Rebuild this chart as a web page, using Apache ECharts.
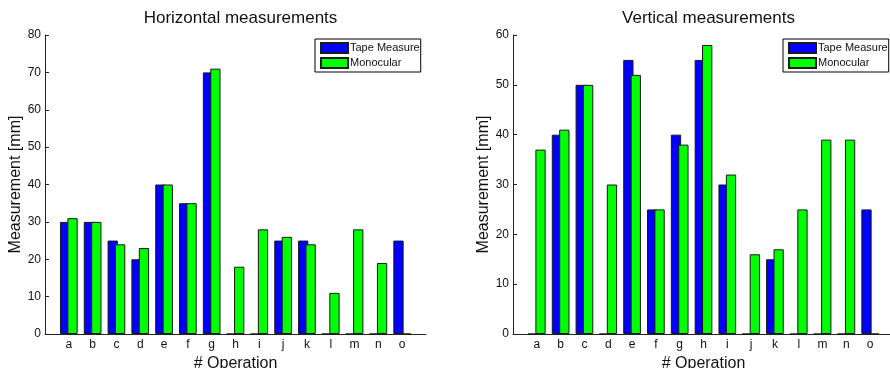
<!DOCTYPE html>
<html>
<head>
<meta charset="utf-8">
<script src="https://cdn.jsdelivr.net/npm/echarts@6/dist/echarts.min.js"></script>
<style>
  html, body { margin: 0; padding: 0; background: #fff; }
  #chart { width: 890px; height: 368px; }
</style>
</head>
<body>
<div id="chart"></div>
<script>
// Operation labels
const operations = ['a','b','c','d','e','f','g','h','i','j','k','l','m','n','o'];

// Horizontal measurements [mm]
const horizTape = [30, 30, 25, 20, 40, 35, 70, 0, 0, 25, 25, 0, 0, 0, 25];
const horizMono = [31, 30, 24, 23, 40, 35, 71, 18, 28, 26, 24, 11, 28, 19, 0];

// Vertical measurements [mm]
const vertTape = [0, 40, 50, 0, 55, 25, 40, 55, 30, 0, 15, 0, 0, 0, 25];
const vertMono = [37, 41, 50, 30, 52, 25, 38, 58, 32, 16, 17, 25, 39, 39, 0];

const FONT = '"Liberation Sans", Arial, Helvetica, sans-serif';
const TXT = '#111';
const AXIS = '#222';

// pad the category axis with an empty slot on each side so the
// axis runs half a band beyond the first and last group
const padCats = ['', ...operations, ''];
const pad = arr => [null, ...arr, null];

const chart = echarts.init(document.getElementById('chart'), null, { renderer: 'canvas' });

function xAxisFor(gridIndex) {
  return {
    type: 'category', gridIndex, data: padCats, boundaryGap: false,
    axisLine: { lineStyle: { color: AXIS, width: 1 } },
    axisTick: { show: false },
    axisLabel: { color: TXT, fontFamily: FONT, fontSize: 12, margin: 5, interval: 0 },
    splitLine: { show: false },
    name: '# Operation', nameLocation: 'middle', nameGap: 18,
    nameTextStyle: { color: TXT, fontFamily: FONT, fontSize: 16 }
  };
}
function yAxisFor(gridIndex, max) {
  return {
    type: 'value', gridIndex, min: 0, max, interval: 10,
    axisLine: { show: true, lineStyle: { color: AXIS, width: 1 } },
    axisTick: { show: true, inside: true, length: 4, lineStyle: { color: AXIS } },
    axisLabel: { color: TXT, fontFamily: FONT, fontSize: 12, margin: 4 },
    splitLine: { show: false },
    name: 'Measurement [mm]', nameLocation: 'middle', nameGap: 21,
    nameTextStyle: { color: TXT, fontFamily: FONT, fontSize: 16 }
  };
}
function barSeries(name, data, color, idx) {
  return {
    type: 'bar', name, data: pad(data), xAxisIndex: idx, yAxisIndex: idx,
    barWidth: 10.3, barGap: '-28%',
    itemStyle: { color, borderColor: '#1a1a1a', borderWidth: 1 },
    animation: false
  };
}
function legendFor(left) {
  return {
    left, top: 39, orient: 'vertical', icon: 'rect',
    itemWidth: 27, itemHeight: 10, itemGap: 3,
    padding: [3, 1, 3, 5],
    borderColor: '#000', borderWidth: 1, backgroundColor: '#fff',
    textStyle: { color: TXT, fontFamily: FONT, fontSize: 11, padding: [0, 0, 0, -3] },
    data: ['Tape Measure', 'Monocular']
  };
}

chart.setOption({
  backgroundColor: '#fff',
  animation: false,
  title: [
    { text: 'Horizontal measurements', left: 235.5, top: 5, textAlign: 'center',
      textStyle: { color: TXT, fontFamily: FONT, fontSize: 17, fontWeight: 'normal' } },
    { text: 'Vertical measurements', left: 703.5, top: 5, textAlign: 'center',
      textStyle: { color: TXT, fontFamily: FONT, fontSize: 17, fontWeight: 'normal' } }
  ],
  legend: [legendFor(315), legendFor(783)],
  grid: [
    { left: 45, top: 35, width: 381, height: 299, outerBoundsMode: 'none', containLabel: false },
    { left: 513, top: 35, width: 381, height: 299, outerBoundsMode: 'none', containLabel: false }
  ],
  xAxis: [xAxisFor(0), xAxisFor(1)],
  yAxis: [yAxisFor(0, 80), yAxisFor(1, 60)],
  series: [
    barSeries('Tape Measure', horizTape, '#0000ff', 0),
    barSeries('Monocular', horizMono, '#00ff00', 0),
    barSeries('Tape Measure', vertTape, '#0000ff', 1),
    barSeries('Monocular', vertMono, '#00ff00', 1)
  ]
});
</script>
</body>
</html>
